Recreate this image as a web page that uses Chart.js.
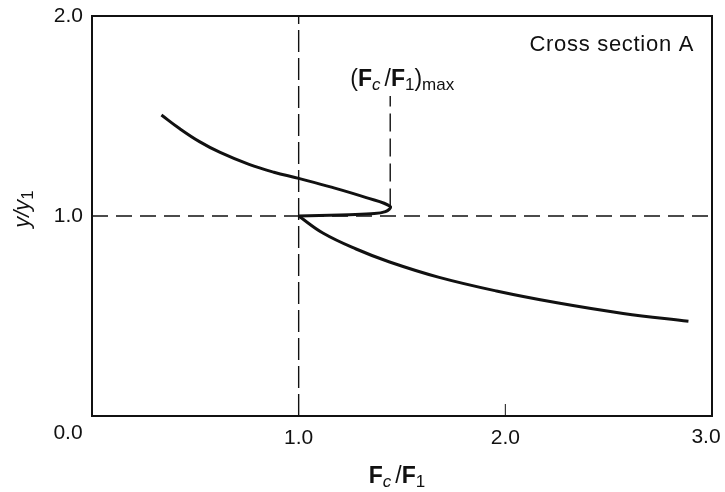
<!DOCTYPE html>
<html>
<head>
<meta charset="utf-8">
<script src="https://cdn.jsdelivr.net/npm/chart.js@4/dist/chart.umd.min.js"></script>
<style>
  body{margin:0;background:#fff}
  #wrap{width:725px;height:492px;position:relative}
</style>
</head>
<body>
<div id="wrap"><canvas id="plot"></canvas></div>
<script>
//-----------------Data
const upperX = [0.336, 0.42, 0.52, 0.62, 0.76, 0.88, 1.0, 1.163, 1.327, 1.443, 1.42, 1.35, 1.2, 1.0]
const upperY = [1.505, 1.44, 1.372, 1.318, 1.258, 1.219, 1.188, 1.143, 1.092, 1.048, 1.022, 1.011, 1.005, 1.0]
const lowerX = [1.0, 1.117, 1.278, 1.44, 1.68, 1.957, 2.25, 2.57, 2.886]
const lowerY = [1.0, 0.915, 0.835, 0.77, 0.693, 0.625, 0.566, 0.513, 0.474]
const xTicks = [0, 1, 2, 3]
const yTicks = [0, 1, 2]
const tickText = ['0.0', '1.0', '2.0', '3.0']
const critX = 1.443          // (Fc/F1)max
const critY = [1.047, 1.6]
const unitY = 1.0
const unitX = 1.0

const fam = "'Liberation Sans', Arial, Helvetica, sans-serif"
const ink = '#111'

function pts(xs, ys){
  return xs.map((x, i) => ({x: x, y: ys[i]}))
}

//----------------- text in several runs (bold F, italic subscripts ...)
function drawRuns(ctx, runs, x, y, align){
  let w = 0
  runs.forEach(r => { ctx.font = r.font; w += ctx.measureText(r.t).width + (r.gap || 0) })
  let cx = align === 'center' ? x - w / 2 : (align === 'right' ? x - w : x)
  runs.forEach(r => {
    ctx.font = r.font
    ctx.fillText(r.t, cx, y + (r.dy || 0))
    cx += ctx.measureText(r.t).width + (r.gap || 0)
  })
}

const decor = {
  id: 'decor',
  afterDraw(chart){
    const ctx = chart.ctx
    const a = chart.chartArea
    const sx = chart.scales.x, sy = chart.scales.y
    ctx.save()
    // frame
    ctx.strokeStyle = ink
    ctx.lineWidth = 2
    ctx.strokeRect(a.left, a.top, a.right - a.left, a.bottom - a.top)
    // little inner tick at 2.0
    ctx.lineWidth = 1
    ctx.beginPath()
    ctx.moveTo(sx.getPixelForValue(2), a.bottom)
    ctx.lineTo(sx.getPixelForValue(2), a.bottom - 12)
    ctx.stroke()

    ctx.fillStyle = ink
    ctx.textBaseline = 'middle'
    // end labels of the x axis (corner one is shared with y)
    ctx.font = '21px ' + fam
    ctx.textAlign = 'center'
    ctx.fillText(tickText[0], sx.getPixelForValue(xTicks[0]) - 24, sy.getPixelForValue(0) + 17)
    ctx.fillText(tickText[3], sx.getPixelForValue(xTicks[3]) - 6, sy.getPixelForValue(0) + 21)

    // Cross section A
    ctx.font = '22px ' + fam
    ctx.letterSpacing = '0.7px'
    ctx.textAlign = 'right'
    ctx.fillText('Cross section A', a.right - 18, a.top + 29)
    ctx.letterSpacing = '0px'
    ctx.textAlign = 'left'

    const big = '23px ' + fam
    const bold = 'bold 23px ' + fam
    const sub = '17px ' + fam
    const subI = 'italic 17px ' + fam

    // (Fc/F1)max
    drawRuns(ctx, [
      {t: '(', font: big},
      {t: 'F', font: bold},
      {t: 'c', font: subI, dy: 5, gap: 4},
      {t: '/', font: big},
      {t: 'F', font: bold},
      {t: '1', font: sub, dy: 5},
      {t: ')', font: big},
      {t: 'max', font: sub, dy: 5}
    ], sx.getPixelForValue(critX) + 12, sy.getPixelForValue(critY[1]) - 16, 'center')

    // x title
    drawRuns(ctx, [
      {t: 'F', font: bold},
      {t: 'c', font: subI, dy: 5, gap: 4},
      {t: '/', font: big},
      {t: 'F', font: bold},
      {t: '1', font: sub, dy: 5}
    ], (a.left + a.right) / 2 - 5, 477, 'center')

    // y title
    ctx.translate(23, sy.getPixelForValue(1) - 7)
    ctx.rotate(-Math.PI / 2)
    drawRuns(ctx, [
      {t: 'y/y', font: 'italic 22px ' + fam},
      {t: '1', font: sub, dy: 5}
    ], 0, 0, 'center')
    ctx.restore()
  }
}

function line(data, opts){
  return Object.assign({
    data: data,
    showLine: true,
    borderColor: ink,
    borderWidth: 3,
    pointRadius: 0,
    tension: 0,
    fill: false
  }, opts || {})
}

function FroudeChart(){
  const ctx = document.getElementById('plot').getContext('2d')
  new Chart(ctx, {
    type: 'scatter',
    data: {
      datasets: [
        line([{x: xTicks[0], y: unitY}, {x: xTicks[3], y: unitY}], {borderWidth: 1.4, borderDash: [16, 8]}),
        line([{x: unitX, y: yTicks[0]}, {x: unitX, y: yTicks[2]}], {borderWidth: 1.4, borderDash: [22, 6]}),
        line([{x: critX, y: critY[0]}, {x: critX, y: critY[1]}], {borderWidth: 1.4, borderDash: [18, 7]}),
        line(pts(upperX, upperY), {tension: 0.4}),
        line(pts(lowerX, lowerY), {tension: 0.4})
      ]
    },
    options: {
      animation: false,
      responsive: true,
      maintainAspectRatio: false,
      layout: {padding: {top: 16, right: 13, left: 0, bottom: 0}},
      plugins: {legend: {display: false}, tooltip: {enabled: false}},
      scales: {
        x: {
          type: 'linear', min: xTicks[0], max: xTicks[3],
          afterFit: s => { s.height = 76; s.paddingLeft = 0; s.paddingRight = 0 },
          afterBuildTicks: s => { s.ticks = xTicks.map(v => ({value: v})) },
          grid: {display: false, drawTicks: false},
          border: {display: false},
          ticks: {
            padding: 10, color: ink, font: {family: fam, size: 21},
            callback: v => (v === 0 || v === 3) ? '' : tickText[v]
          }
        },
        y: {
          type: 'linear', min: yTicks[0], max: yTicks[2],
          afterFit: s => { s.width = 92; s.paddingTop = 0; s.paddingBottom = 0 },
          afterBuildTicks: s => { s.ticks = yTicks.map(v => ({value: v})) },
          grid: {display: false, drawTicks: false},
          border: {display: false},
          ticks: {
            padding: 9, color: ink, font: {family: fam, size: 21},
            callback: v => v === 0 ? '' : tickText[v]
          }
        }
      }
    },
    plugins: [decor]
  })
}

FroudeChart()
</script>
</body>
</html>
